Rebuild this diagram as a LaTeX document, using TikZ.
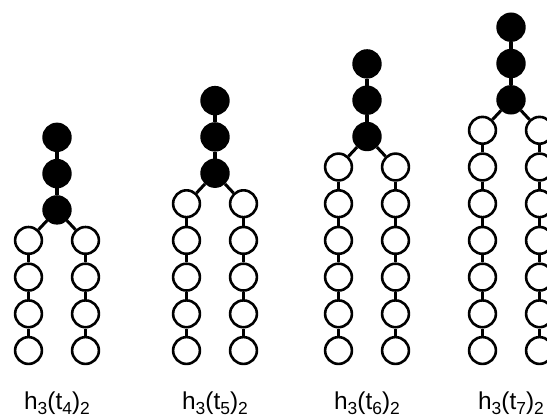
\documentclass[tikz,border=0pt]{standalone}
\usepackage{fontspec}
\setmainfont{Liberation Sans}
\newcommand\mysub[1]{\raisebox{-4.5bp}{\fontsize{17.5}{17.5}\selectfont #1}}
\begin{document}
\begin{tikzpicture}[x=1bp,y=-1bp,
  wb/.style={circle,draw=black,line width=2.6bp,minimum size=26.8bp,inner sep=0pt,fill=white},
  bb/.style={wb,fill=black},
  lk/.style={line width=3.5bp},
  lab/.style={anchor=base,font=\fontsize{24.5}{28}\selectfont,inner sep=0pt}]
\useasboundingbox (0,0) rectangle (547,418);
\clip (0,0) rectangle (547,418);
\foreach \cx/\g/\n in {57/1/4,215/2/5,367/3/6,511/4/7}{
  \pgfmathsetmacro\topy{350.5-(\n-1)*36.7}
  \foreach \i in {1,...,\n}{
    \node[wb] (L\g-\i) at ({\cx-28.5},{\topy+(\i-1)*36.7}) {};
    \node[wb] (R\g-\i) at ({\cx+28.5},{\topy+(\i-1)*36.7}) {};
  }
  \foreach \j in {1,2,3}{
    \node[bb] (B\g-\j) at (\cx,{\topy-30.5-(3-\j)*36.3}) {};
  }
  \draw[lk] (B\g-1) -- (B\g-2);
  \draw[lk] (B\g-2) -- (B\g-3);
  \draw[line width=3bp] (B\g-3) -- (L\g-1);
  \draw[line width=3bp] (B\g-3) -- (R\g-1);
  \pgfmathtruncatemacro\m{\n-1}
  \foreach \i in {1,...,\m}{
    \pgfmathtruncatemacro\k{\i+1}
    \draw[lk] (L\g-\i) -- (L\g-\k);
    \draw[lk] (R\g-\i) -- (R\g-\k);
  }
  \node[lab] (lab\g) at (\cx,409.5) {h\mysub{3}(t\mysub{\n})\mysub{2}};
}
\end{tikzpicture}
\end{document}
